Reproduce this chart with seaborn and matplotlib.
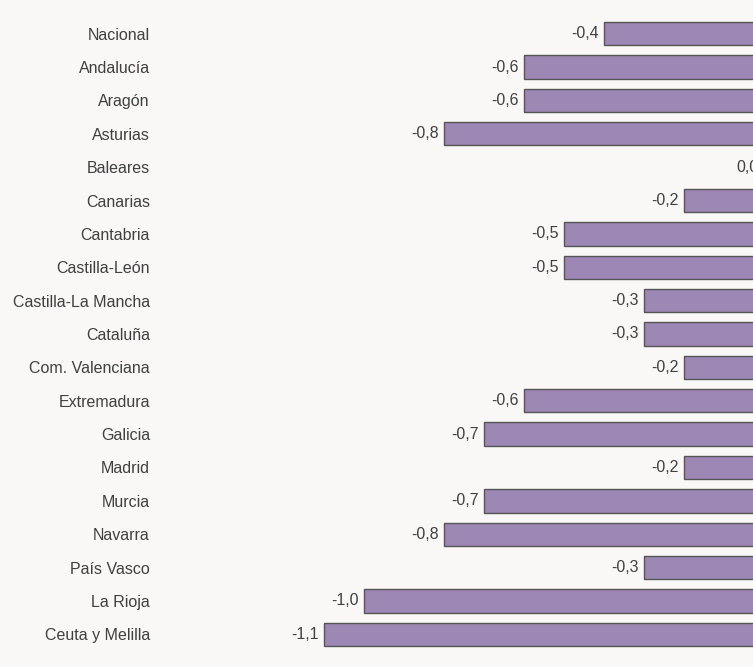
import matplotlib.pyplot as plt
import seaborn as sns
import pandas as pd

regiones = ['Nacional', 'Andalucía', 'Aragón', 'Asturias', 'Baleares', 'Canarias',
            'Cantabria', 'Castilla-León', 'Castilla-La Mancha', 'Cataluña',
            'Com. Valenciana', 'Extremadura', 'Galicia', 'Madrid', 'Murcia',
            'Navarra', 'País Vasco', 'La Rioja', 'Ceuta y Melilla']
valores = [-0.4, -0.6, -0.6, -0.8, 0.0, -0.2, -0.5, -0.5, -0.3, -0.3,
           -0.2, -0.6, -0.7, -0.2, -0.7, -0.8, -0.3, -1.0, -1.1]

df = pd.DataFrame({'Region': regiones, 'Valor': valores})

sns.set_style('white')
plt.rcParams['font.family'] = ['Liberation Sans', 'DejaVu Sans']

bg = '#f9f8f6'
txt = '#404040'
fig = plt.figure(figsize=(7.53, 6.67), dpi=100, facecolor=bg)
# zero line sits just past the right edge of the image
W, H = 753, 667
left_px, right_px = 161, 764
ax = fig.add_axes([left_px / W, 16 / H, (right_px - left_px) / W, (H - 33) / H])
ax.set_facecolor(bg)

sns.barplot(data=df, x='Valor', y='Region', orient='h', color='#9d87b4',
            saturation=1, edgecolor='#555555', linewidth=1, width=0.7, ax=ax)

ax.set_xlim((left_px - right_px) / 400, 0)
ax.set_ylim(len(regiones) - 0.5, -0.5)
for i, v in enumerate(valores):
    ax.annotate(f'{v:.1f}'.replace('.', ','), (v, i), xytext=(-4, 0),
                textcoords='offset points', ha='right', va='center',
                fontsize=11.5, color=txt)

ax.set_xlabel('')
ax.set_ylabel('')
ax.set_xticks([])
ax.tick_params(axis='y', length=0, pad=8, labelsize=11.5, labelcolor=txt)
sns.despine(ax=ax, left=True, bottom=True)

fig.savefig('out.png', dpi=100, facecolor=bg)
